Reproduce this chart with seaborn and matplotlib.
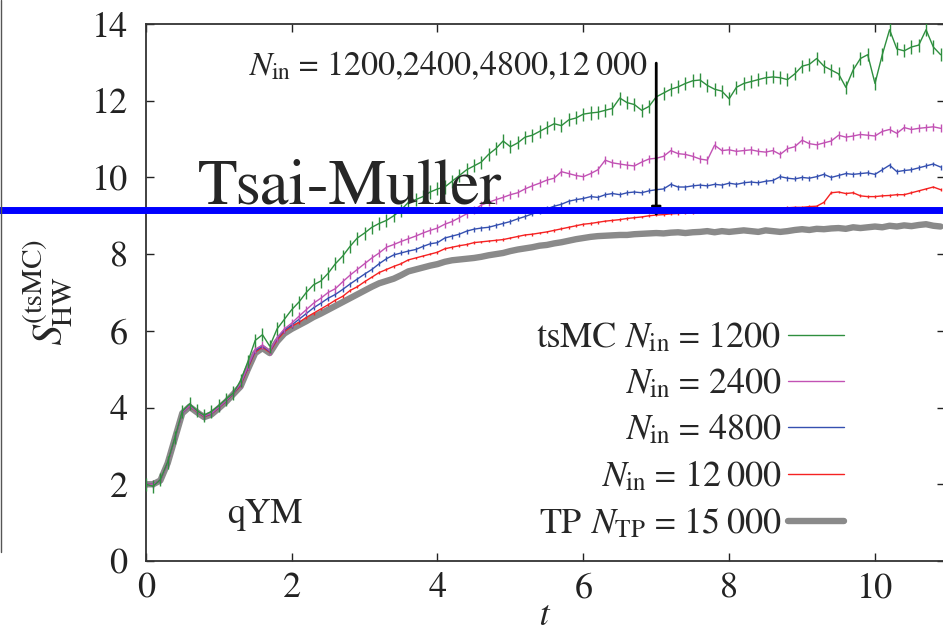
import numpy as np
import pandas as pd
import matplotlib
matplotlib.use("Agg")
import matplotlib.pyplot as plt
import seaborn as sns
from matplotlib.lines import Line2D

# ---------------- data ----------------
t = np.round(np.arange(0, 110) * 0.1, 1)

s_tp15000 = [2.00, 2.00, 2.10, 2.55, 3.20, 3.85, 4.02, 3.88, 3.75, 3.82,
             3.98, 4.15, 4.35, 4.55, 5.00, 5.42, 5.55, 5.42, 5.72, 5.93,
             6.05, 6.15, 6.25, 6.36, 6.45, 6.55, 6.65, 6.75, 6.85, 6.95,
             7.05, 7.15, 7.24, 7.30, 7.36, 7.45, 7.55, 7.60, 7.65, 7.70,
             7.74, 7.80, 7.84, 7.86, 7.88, 7.90, 7.93, 7.97, 8.00, 8.03,
             8.08, 8.12, 8.15, 8.18, 8.22, 8.24, 8.28, 8.31, 8.35, 8.39,
             8.42, 8.45, 8.47, 8.48, 8.49, 8.50, 8.50, 8.52, 8.53, 8.54,
             8.55, 8.54, 8.56, 8.57, 8.55, 8.57, 8.58, 8.60, 8.57, 8.60,
             8.58, 8.60, 8.62, 8.60, 8.58, 8.62, 8.60, 8.58, 8.60, 8.63,
             8.65, 8.63, 8.66, 8.65, 8.67, 8.68, 8.66, 8.70, 8.68, 8.70,
             8.72, 8.70, 8.74, 8.72, 8.75, 8.73, 8.76, 8.78, 8.74, 8.72]

s_n12000 = [2.00, 2.00, 2.10, 2.56, 3.21, 3.86, 4.03, 3.89, 3.76, 3.83,
            3.99, 4.16, 4.36, 4.57, 5.02, 5.45, 5.57, 5.44, 5.76, 5.98,
            6.12, 6.22, 6.35, 6.46, 6.57, 6.68, 6.80, 6.90, 7.05, 7.15,
            7.28, 7.40, 7.52, 7.60, 7.68, 7.75, 7.85, 7.90, 7.95, 8.00,
            8.05, 8.14, 8.18, 8.22, 8.25, 8.30, 8.32, 8.34, 8.36, 8.38,
            8.42, 8.46, 8.50, 8.52, 8.55, 8.58, 8.62, 8.66, 8.70, 8.74,
            8.78, 8.80, 8.83, 8.86, 8.88, 8.90, 8.93, 8.95, 8.97, 9.00,
            9.02, 9.03, 9.05, 9.06, 9.07, 9.08, 9.10, 9.12, 9.13, 9.14,
            9.15, 9.16, 9.17, 9.17, 9.18, 9.18, 9.20, 9.20, 9.21, 9.22,
            9.22, 9.24, 9.25, 9.35, 9.60, 9.62, 9.58, 9.60, 9.52, 9.50,
            9.50, 9.52, 9.53, 9.55, 9.55, 9.60, 9.65, 9.70, 9.75, 9.68]

s_n4800 = [2.00, 2.00, 2.10, 2.56, 3.21, 3.86, 4.04, 3.90, 3.77, 3.84,
           4.00, 4.17, 4.37, 4.60, 5.05, 5.48, 5.60, 5.46, 5.80, 6.02,
           6.15, 6.30, 6.45, 6.60, 6.72, 6.85, 6.95, 7.08, 7.22, 7.35,
           7.48, 7.60, 7.75, 7.88, 7.98, 8.03, 8.08, 8.12, 8.20, 8.27,
           8.30, 8.42, 8.47, 8.52, 8.60, 8.65, 8.68, 8.70, 8.75, 8.80,
           8.85, 8.92, 8.98, 9.05, 9.10, 9.18, 9.25, 9.30, 9.38, 9.42,
           9.45, 9.50, 9.48, 9.55, 9.58, 9.55, 9.60, 9.62, 9.60, 9.65,
           9.68, 9.70, 9.82, 9.75, 9.75, 9.78, 9.80, 9.78, 9.82, 9.80,
           9.85, 9.82, 9.86, 9.88, 9.86, 9.90, 9.92, 10.02, 9.98, 9.96,
           10.00, 9.98, 10.02, 10.08, 10.00, 10.05, 10.10, 10.08, 10.10, 10.12,
           10.08, 10.20, 10.32, 10.15, 10.18, 10.20, 10.25, 10.30, 10.35, 10.27]

s_n2400 = [2.00, 2.00, 2.10, 2.56, 3.21, 3.87, 4.04, 3.90, 3.78, 3.85,
           4.01, 4.18, 4.38, 4.62, 5.08, 5.52, 5.63, 5.48, 5.82, 6.05,
           6.20, 6.38, 6.55, 6.72, 6.85, 7.00, 7.10, 7.28, 7.45, 7.60,
           7.75, 7.90, 8.03, 8.18, 8.25, 8.33, 8.40, 8.47, 8.55, 8.62,
           8.68, 8.78, 8.85, 8.95, 9.05, 9.15, 9.28, 9.35, 9.42, 9.48,
           9.55, 9.60, 9.70, 9.78, 9.85, 9.93, 9.98, 10.15, 10.10, 10.05,
           10.02, 10.10, 10.20, 10.45, 10.38, 10.35, 10.32, 10.30, 10.40, 10.48,
           10.50, 10.55, 10.70, 10.62, 10.60, 10.55, 10.48, 10.45, 10.84, 10.70,
           10.72, 10.68, 10.70, 10.72, 10.68, 10.66, 10.70, 10.60, 10.75, 10.80,
           10.97, 10.88, 10.85, 10.90, 10.95, 11.10, 11.05, 11.08, 11.12, 11.10,
           11.08, 11.20, 11.25, 11.15, 11.30, 11.25, 11.28, 11.30, 11.32, 11.28]

s_n1200 = [2.00, 1.95, 2.12, 2.58, 3.22, 3.90, 4.10, 3.92, 3.80, 3.90,
           4.05, 4.22, 4.38, 4.70, 5.20, 5.75, 5.90, 5.60, 6.05, 6.30,
           6.55, 6.75, 7.00, 7.20, 7.30, 7.50, 7.75, 7.95, 8.20, 8.42,
           8.55, 8.70, 8.80, 8.88, 9.00, 9.15, 9.35, 9.42, 9.50, 9.62,
           9.70, 9.75, 9.90, 10.05, 10.20, 10.30, 10.40, 10.60, 10.75, 10.95,
           10.80, 10.90, 11.05, 11.10, 11.20, 11.30, 11.40, 11.35, 11.50, 11.55,
           11.65, 11.68, 11.70, 11.75, 11.80, 12.07, 11.95, 11.90, 11.75, 11.85,
           12.10, 12.20, 12.30, 12.36, 12.45, 12.52, 12.54, 12.40, 12.30, 12.25,
           12.05, 12.35, 12.45, 12.50, 12.55, 12.60, 12.62, 12.60, 12.55, 12.70,
           12.90, 12.95, 13.10, 12.90, 12.80, 12.70, 12.35, 12.80, 13.10, 13.20,
           12.45, 13.20, 13.85, 13.35, 13.30, 13.40, 13.45, 13.85, 13.40, 13.20]

# half-heights of the error bars of each tsMC series
err_n1200 = 0.17
err_n2400 = 0.10
err_n4800 = 0.065
err_n12000 = 0.035

labels = ["tsMC $N_{\\mathrm{in}}$ = 1200",
          "$N_{\\mathrm{in}}$ = 2400",
          "$N_{\\mathrm{in}}$ = 4800",
          "$N_{\\mathrm{in}}$ = 12\u2009000",
          "TP $N_{\\mathrm{TP}}$ = 15\u2009000"]
colors = ["#2f8f3f", "#c252b4", "#3550b0", "#f52222", "#8a8a8a"]

tsai_muller = 9.15
arrow_t = 7.0
arrow_top = 12.98
arrow_bottom = 8.97

# ---------------- styling ----------------
sns.set_style("ticks")
SERIF = "FreeSerif"
plt.rcParams["font.family"] = [SERIF, "DejaVu Serif"]
plt.rcParams["mathtext.fontset"] = "custom"
plt.rcParams["mathtext.rm"] = SERIF
plt.rcParams["mathtext.it"] = SERIF + ":italic"
plt.rcParams["mathtext.bf"] = SERIF + ":bold"

FS = 26

fig = plt.figure(figsize=(9.43, 6.35), dpi=100)
ax = fig.add_axes([145.8 / 943, 1 - 561 / 635, (945 - 145.8) / 943, (561 - 24) / 635])

df = pd.DataFrame({"t": t, "tp": s_tp15000, "n12000": s_n12000, "n4800": s_n4800,
                   "n2400": s_n2400, "n1200": s_n1200})

# thick TP curve first (under the others)
sns.lineplot(data=df, x="t", y="tp", ax=ax, color=colors[4], lw=4.6, label=labels[4], zorder=2)
series = [("n12000", err_n12000, colors[3], labels[3]),
          ("n4800", err_n4800, colors[2], labels[2]),
          ("n2400", err_n2400, colors[1], labels[1]),
          ("n1200", err_n1200, colors[0], labels[0])]
for i, (col, err, c, lab) in enumerate(series):
    sns.lineplot(data=df, x="t", y=col, ax=ax, color=c, lw=1.0, label=lab, zorder=3 + i)
    ax.vlines(df["t"], df[col] - err, df[col] + err, color=c, lw=1.0, zorder=3 + i)

ax.set_xlim(0, 10.96)
ax.set_ylim(0, 14)
ax.set_xticks([0, 2, 4, 6, 8, 10])
ax.set_yticks([0, 2, 4, 6, 8, 10, 12, 14])
ax.tick_params(direction="in", top=True, right=True, length=6, width=1.0,
               labelsize=FS, colors="#222222")
ax.tick_params(axis="y", pad=13)
ax.tick_params(axis="x", pad=8)
for sp in ax.spines.values():
    sp.set_visible(True)
    sp.set_linewidth(1.3)
    sp.set_color("#333333")

ax.set_xlabel("$t$", fontsize=FS, labelpad=-4)
ax.set_ylabel("$S^{(\\mathrm{tsMC})}_{\\mathrm{HW}}$", fontsize=30, labelpad=12)

# legend (gnuplot-like: text right-aligned, sample on the right)
h, l = ax.get_legend_handles_labels()
order = [l.index(x) for x in labels]
ax.legend([h[i] for i in order], [l[i] for i in order], loc="upper right",
          bbox_to_anchor=(0.874, 0.448), frameon=False, markerfirst=False,
          fontsize=FS, handlelength=1.55, handletextpad=0.2, labelspacing=0.34,
          borderpad=0, borderaxespad=0)

# annotations
ax.text(1.11, 0.99, "qYM", fontsize=FS, ha="left", va="baseline")
ax.text(1.4, 12.67, "$N_{\\mathrm{in}}$ = 1200,2400,4800,12\u2009000", fontsize=24.5,
        ha="left", va="baseline")
ax.annotate("", xy=(arrow_t, arrow_bottom), xytext=(arrow_t, arrow_top),
            arrowprops=dict(arrowstyle="-|>", lw=2.0, color="black",
                            mutation_scale=14, shrinkA=0, shrinkB=0), zorder=10)

# Tsai-Muller reference line across the whole figure width
ax.axhline(tsai_muller, xmin=-0.2, xmax=1.0, color="#0000ff", lw=5, clip_on=False, zorder=12)
ax.text(0.716, tsai_muller + 0.18, "Tsai-Muller", fontsize=47, ha="left", va="baseline",
        zorder=13)

# thin frame line at the very left of the picture
fig.add_artist(Line2D([0.0015, 0.0015], [1.0, 1 - 552 / 635], color="#555555", lw=1.0))

fig.savefig("out.png", dpi=100)
